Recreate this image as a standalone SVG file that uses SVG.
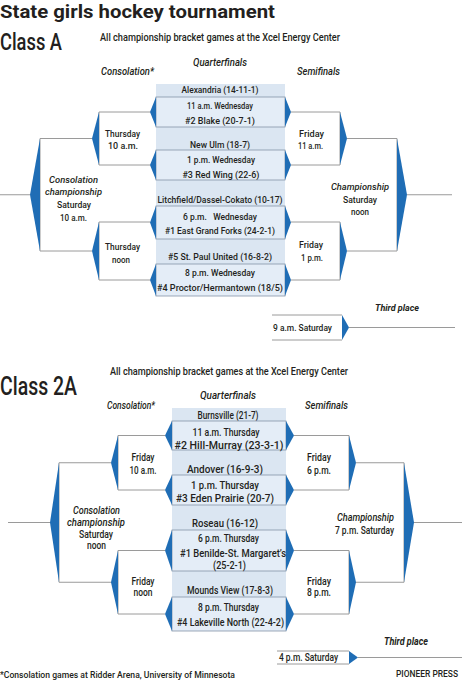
<svg xmlns="http://www.w3.org/2000/svg" width="462" height="680" viewBox="0 0 462 680">
<style>
text{font-family:Roboto,"Liberation Sans",Arial,sans-serif;font-weight:500;fill:#231f20}
.t{font-size:9.5px;text-anchor:middle}
.t2{font-size:10px;text-anchor:middle}
.s{font-size:10px}
.it{font-style:italic}
.b{font-weight:bold}
.bg{fill:#dbe6f2}
.box{fill:#e4edf7;stroke:#8494a8;stroke-width:0.8}
.w{fill:#1f6db5}
.ln{stroke:#9a9a9a;stroke-width:1;fill:none}
</style>
<rect width="462" height="680" fill="#ffffff"/>

<g id="header">
<text x="0" y="18" class="b" style="font-size:19px" textLength="275" lengthAdjust="spacingAndGlyphs">State girls hockey tournament</text>
</g>

<!-- ================= CLASS A ================= -->
<g id="classA-labels">
<text x="0" y="50" style="font-size:24px" textLength="62" lengthAdjust="spacingAndGlyphs">Class A</text>
<text x="100" y="41" class="s" textLength="240" lengthAdjust="spacingAndGlyphs">All championship bracket games at the Xcel Energy Center</text>
<text x="220" y="66" class="t2 it" textLength="54" lengthAdjust="spacingAndGlyphs">Quarterfinals</text>
<text x="101" y="75" class="s it" textLength="53" lengthAdjust="spacingAndGlyphs">Consolation*</text>
<text x="297" y="75" class="s it" textLength="43" lengthAdjust="spacingAndGlyphs">Semifinals</text>
</g>

<g id="classA-connectors">
<path class="ln" d="M150,112 H99 V165 H150"/>
<path class="ln" d="M92,138.5 H40 V251 H92"/>
<path class="ln" d="M150,222 H99 V280 H150"/>
<path class="ln" d="M30,194.75 H0"/>
<path class="ln" d="M291,112 H340 V165 H291"/>
<path class="ln" d="M347,138.5 H397 V251 H347"/>
<path class="ln" d="M291,222 H340 V280 H291"/>
<path class="ln" d="M407,194.75 H452"/>
<path class="ln" d="M342,315 H272 M272,340 H342"/>
<path class="ln" d="M349,327.5 H455"/>
</g>

<rect id="classA-qf-column" class="bg" x="156" y="84" width="129" height="212"/>

<g id="a-qf1">
<text x="220" y="93" class="t" textLength="77" lengthAdjust="spacingAndGlyphs">Alexandria (14-11-1)</text>
<rect class="box" x="156" y="97" width="129" height="30"/>
<polygon class="w" points="156,97 156,127 150,112"/>
<polygon class="w" points="285,97 285,127 291,112"/>
<text x="220" y="108.5" class="t" textLength="66" lengthAdjust="spacingAndGlyphs">11 a.m. Wednesday</text>
<text x="220" y="124" class="t" textLength="70" lengthAdjust="spacingAndGlyphs">#2 Blake (20-7-1)</text>
</g>
<g id="a-qf2">
<text x="220" y="147.5" class="t" textLength="60" lengthAdjust="spacingAndGlyphs">New Ulm (18-7)</text>
<rect class="box" x="156" y="150" width="129" height="30"/>
<polygon class="w" points="156,150 156,180 150,165"/>
<polygon class="w" points="285,150 285,180 291,165"/>
<text x="221" y="163" class="t" textLength="68" lengthAdjust="spacingAndGlyphs">1 p.m. Wednesday</text>
<text x="221" y="178" class="t" textLength="77" lengthAdjust="spacingAndGlyphs">#3 Red Wing (22-6)</text>
</g>
<g id="a-qf3">
<text x="220" y="203" class="t" textLength="125" lengthAdjust="spacingAndGlyphs">Litchfield/Dassel-Cokato (10-17)</text>
<rect class="box" x="156" y="206" width="129" height="33"/>
<polygon class="w" points="156,206 156,239 150,222.5"/>
<polygon class="w" points="285,206 285,239 291,222.5"/>
<text x="220" y="220" class="t" textLength="74" lengthAdjust="spacingAndGlyphs">6 p.m.&#160;&#160; Wednesday</text>
<text x="220" y="234" class="t" textLength="110" lengthAdjust="spacingAndGlyphs">#1 East Grand Forks (24-2-1)</text>
</g>
<g id="a-qf4">
<text x="220" y="260" class="t" textLength="104" lengthAdjust="spacingAndGlyphs">#5 St. Paul United (16-8-2)</text>
<rect class="box" x="156" y="264" width="129" height="32"/>
<polygon class="w" points="156,264 156,296 150,280"/>
<polygon class="w" points="285,264 285,296 291,280"/>
<text x="220" y="275.5" class="t" textLength="70" lengthAdjust="spacingAndGlyphs">8 p.m. Wednesday</text>
<text x="220" y="291" class="t" textLength="126" lengthAdjust="spacingAndGlyphs">#4 Proctor/Hermantown (18/5)</text>
</g>

<g id="a-cons1">
<polygon class="w" points="99,112 99,165 92,138.5"/>
<text x="122.5" y="136.5" class="t" textLength="35" lengthAdjust="spacingAndGlyphs">Thursday</text>
<text x="123" y="149" class="t" textLength="30" lengthAdjust="spacingAndGlyphs">10 a.m.</text>
</g>
<g id="a-cons2">
<polygon class="w" points="99,222 99,280 92,251"/>
<text x="122.5" y="250" class="t" textLength="35" lengthAdjust="spacingAndGlyphs">Thursday</text>
<text x="121" y="263" class="t" textLength="18" lengthAdjust="spacingAndGlyphs">noon</text>
</g>
<g id="a-conschamp">
<polygon class="w" points="40,138.5 40,251 30,194.75"/>
<text x="73.5" y="183" class="t it" textLength="49" lengthAdjust="spacingAndGlyphs">Consolation</text>
<text x="73.5" y="194.5" class="t it" textLength="57" lengthAdjust="spacingAndGlyphs">championship</text>
<text x="74" y="208" class="t" textLength="34" lengthAdjust="spacingAndGlyphs">Saturday</text>
<text x="73.5" y="220.5" class="t" textLength="27" lengthAdjust="spacingAndGlyphs">10 a.m.</text>
</g>
<g id="a-semi1">
<polygon class="w" points="340,112 340,165 347,138.5"/>
<text x="311.5" y="137" class="t" textLength="25" lengthAdjust="spacingAndGlyphs">Friday</text>
<text x="310.5" y="148.5" class="t" textLength="25" lengthAdjust="spacingAndGlyphs">11 a.m.</text>
</g>
<g id="a-semi2">
<polygon class="w" points="340,222 340,280 347,251"/>
<text x="311" y="248" class="t" textLength="24" lengthAdjust="spacingAndGlyphs">Friday</text>
<text x="312" y="261" class="t" textLength="22" lengthAdjust="spacingAndGlyphs">1 p.m.</text>
</g>
<g id="a-champ">
<polygon class="w" points="397,138.5 397,251 407,194.75"/>
<text x="360" y="190" class="t it" textLength="58" lengthAdjust="spacingAndGlyphs">Championship</text>
<text x="360" y="203" class="t" textLength="34" lengthAdjust="spacingAndGlyphs">Saturday</text>
<text x="360" y="215" class="t" textLength="18" lengthAdjust="spacingAndGlyphs">noon</text>
</g>
<g id="a-third">
<polygon class="w" points="342,315 342,340 349,327.5"/>
<text x="397" y="311" class="t it b" textLength="44" lengthAdjust="spacingAndGlyphs">Third place</text>
<text x="273" y="331" style="font-size:9.5px" textLength="59" lengthAdjust="spacingAndGlyphs">9 a.m. Saturday</text>
</g>

<!-- ================= CLASS 2A ================= -->
<g id="class2A-labels">
<text x="0" y="395" style="font-size:25px" textLength="77" lengthAdjust="spacingAndGlyphs">Class 2A</text>
<text x="110" y="375" class="s" textLength="238" lengthAdjust="spacingAndGlyphs">All championship bracket games at the Xcel Energy Center</text>
<text x="228" y="399" class="t2 it" textLength="56" lengthAdjust="spacingAndGlyphs">Quarterfinals</text>
<text x="107" y="408.5" class="s it" textLength="48" lengthAdjust="spacingAndGlyphs">Consolation*</text>
<text x="305" y="408.5" class="s it" textLength="43" lengthAdjust="spacingAndGlyphs">Semifinals</text>
</g>

<g id="class2A-connectors">
<path class="ln" d="M165,435.5 H118 V490 H165"/>
<path class="ln" d="M111,462.75 H59 V582.25 H111"/>
<path class="ln" d="M165,550.5 H118 V614 H165"/>
<path class="ln" d="M50,522.5 H8"/>
<path class="ln" d="M294,435.5 H349 V490 H294"/>
<path class="ln" d="M356,462.75 H404 V582.25 H356"/>
<path class="ln" d="M294,550.5 H349 V614 H294"/>
<path class="ln" d="M414,522.5 H462"/>
<path class="ln" d="M349,651 H277 M277,664 H349"/>
<path class="ln" d="M358,657.5 H462"/>
</g>

<rect id="class2A-qf-column" class="bg" x="172" y="408" width="114" height="223"/>

<g id="b-qf1">
<text x="228" y="419" class="t2" textLength="61" lengthAdjust="spacingAndGlyphs">Burnsville (21-7)</text>
<rect class="box" x="172" y="421" width="114" height="29"/>
<polygon class="w" points="172,421 172,450 165,435.5"/>
<polygon class="w" points="286,421 286,450 294,435.5"/>
<text x="226" y="436" class="t2" textLength="67" lengthAdjust="spacingAndGlyphs">11 a.m. Thursday</text>
<text x="229" y="448.5" class="t2" textLength="109" lengthAdjust="spacingAndGlyphs">#2 Hill-Murray (23-3-1)</text>
</g>
<g id="b-qf2">
<text x="225" y="473" class="t2" textLength="76" lengthAdjust="spacingAndGlyphs">Andover (16-9-3)</text>
<rect class="box" x="172" y="475" width="114" height="30"/>
<polygon class="w" points="172,475 172,505 165,490"/>
<polygon class="w" points="286,475 286,505 294,490"/>
<text x="225" y="489" class="t2" textLength="68" lengthAdjust="spacingAndGlyphs">1 p.m. Thursday</text>
<text x="225" y="502" class="t2" textLength="98" lengthAdjust="spacingAndGlyphs">#3 Eden Prairie (20-7)</text>
</g>
<g id="b-qf3">
<text x="225" y="527" class="t2" textLength="66" lengthAdjust="spacingAndGlyphs">Roseau (16-12)</text>
<rect class="box" x="172" y="530" width="114" height="41"/>
<polygon class="w" points="172,530 172,571 165,550.5"/>
<polygon class="w" points="286,530 286,571 294,550.5"/>
<text x="228.5" y="542" class="t2" textLength="61" lengthAdjust="spacingAndGlyphs">6 p.m. Thursday</text>
<text x="233" y="557" class="t2" textLength="106" lengthAdjust="spacingAndGlyphs">#1 Benilde-St. Margaret’s</text>
<text x="229.5" y="568.5" class="t2" textLength="33" lengthAdjust="spacingAndGlyphs">(25-2-1)</text>
</g>
<g id="b-qf4">
<text x="230" y="594" class="t2" textLength="86" lengthAdjust="spacingAndGlyphs">Mounds View (17-8-3)</text>
<rect class="box" x="172" y="597" width="114" height="34"/>
<polygon class="w" points="172,597 172,631 165,614"/>
<polygon class="w" points="286,597 286,631 294,614"/>
<text x="228.5" y="611" class="t2" textLength="61" lengthAdjust="spacingAndGlyphs">8 p.m. Thursday</text>
<text x="230.5" y="626" class="t2" textLength="107" lengthAdjust="spacingAndGlyphs">#4 Lakeville North (22-4-2)</text>
</g>

<g id="b-cons1">
<polygon class="w" points="118,435.5 118,490 111,462.75"/>
<text x="143" y="461" class="t2" textLength="23" lengthAdjust="spacingAndGlyphs">Friday</text>
<text x="143" y="473.5" class="t2" textLength="27" lengthAdjust="spacingAndGlyphs">10 a.m.</text>
</g>
<g id="b-cons2">
<polygon class="w" points="118,550.5 118,614 111,582.25"/>
<text x="143" y="584.5" class="t2" textLength="23" lengthAdjust="spacingAndGlyphs">Friday</text>
<text x="143" y="595.5" class="t2" textLength="19" lengthAdjust="spacingAndGlyphs">noon</text>
</g>
<g id="b-conschamp">
<polygon class="w" points="59,462.75 59,582.25 50,522.5"/>
<text x="96.5" y="514" class="t2 it" textLength="47" lengthAdjust="spacingAndGlyphs">Consolation</text>
<text x="96" y="526" class="t2 it" textLength="58" lengthAdjust="spacingAndGlyphs">championship</text>
<text x="96" y="538" class="t2" textLength="34" lengthAdjust="spacingAndGlyphs">Saturday</text>
<text x="96.5" y="548.5" class="t2" textLength="19" lengthAdjust="spacingAndGlyphs">noon</text>
</g>
<g id="b-semi1">
<polygon class="w" points="349,435.5 349,490 356,462.75"/>
<text x="319" y="461" class="t2" textLength="24" lengthAdjust="spacingAndGlyphs">Friday</text>
<text x="319" y="473.5" class="t2" textLength="24" lengthAdjust="spacingAndGlyphs">6 p.m.</text>
</g>
<g id="b-semi2">
<polygon class="w" points="349,550.5 349,614 356,582.25"/>
<text x="319" y="584.5" class="t2" textLength="24" lengthAdjust="spacingAndGlyphs">Friday</text>
<text x="319" y="596" class="t2" textLength="24" lengthAdjust="spacingAndGlyphs">8 p.m.</text>
</g>
<g id="b-champ">
<polygon class="w" points="404,462.75 404,582.25 414,522.5"/>
<text x="365.5" y="521" class="t2 it" textLength="57" lengthAdjust="spacingAndGlyphs">Championship</text>
<text x="364.5" y="534" class="t2" textLength="59" lengthAdjust="spacingAndGlyphs">7 p.m. Saturday</text>
</g>
<g id="b-third">
<polygon class="w" points="349,651 349,664 358,657.5"/>
<text x="406" y="645" class="t2 it b" textLength="44" lengthAdjust="spacingAndGlyphs">Third place</text>
<text x="279" y="661" class="s" textLength="59" lengthAdjust="spacingAndGlyphs">4 p.m. Saturday</text>
</g>

<g id="footer">
<text x="0" y="678" style="font-size:9px" textLength="235" lengthAdjust="spacingAndGlyphs">*Consolation games at Ridder Arena, University of Minnesota</text>
<text x="396" y="677" style="font-size:8.5px" textLength="62" lengthAdjust="spacingAndGlyphs">PIONEER PRESS</text>
</g>
</svg>
